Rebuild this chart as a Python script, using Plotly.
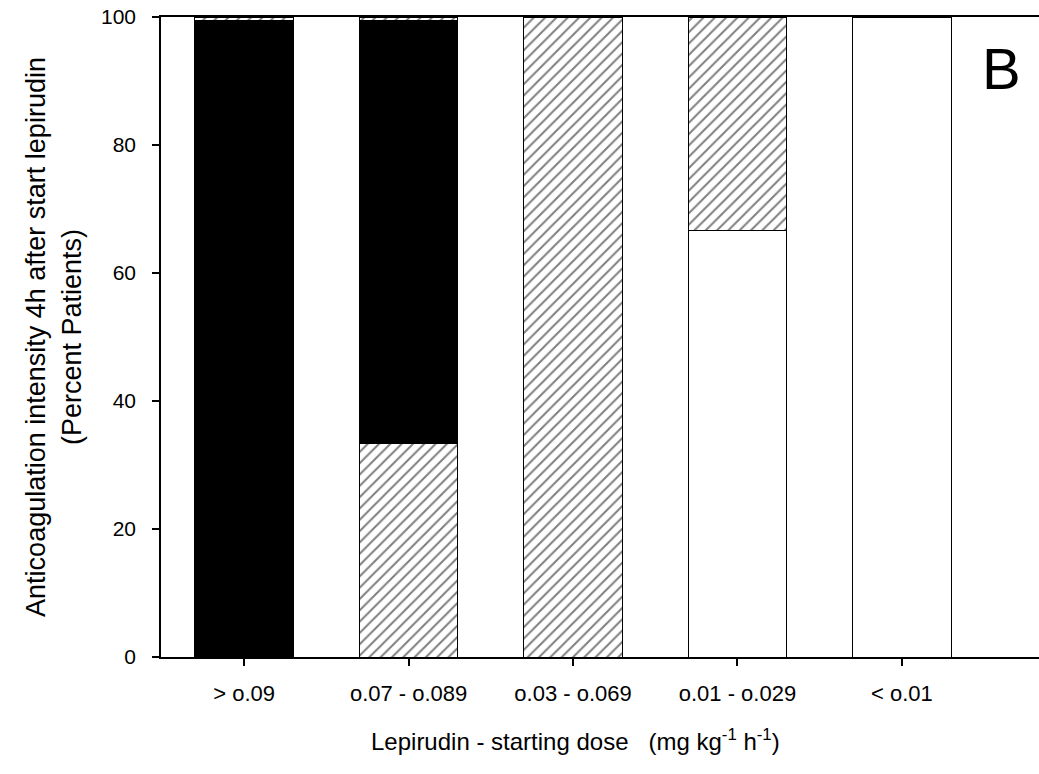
import plotly.graph_objects as go

categories = ["> o.09", "o.07 - o.089", "o.03 - o.069", "o.01 - o.029", "< o.01"]
white_vals = [None, None, None, 66.7, 100]
hatched_vals = [None, 33.3, 100, 33.3, None]
black_vals = [99.5, 66.2, None, None, None]
top_hatched_vals = [0.5, 0.5, None, None, None]
y_ticks = [0, 20, 40, 60, 80, 100]

xpos = list(range(len(categories)))
FONT = "Liberation Sans, Arial, sans-serif"
hatch = dict(shape="/", fgcolor="black", bgcolor="white", size=8, solidity=0.25)
line = dict(color="black", width=1)

fig = go.Figure()
fig.add_bar(x=xpos, y=white_vals, width=0.6, marker=dict(color="white", line=line), name="none")
fig.add_bar(x=xpos, y=hatched_vals, width=0.6, marker=dict(color="white", pattern=hatch, line=line), name="moderate")
fig.add_bar(x=xpos, y=black_vals, width=0.6, marker=dict(color="black", line=line), name="high")
fig.add_bar(x=xpos, y=top_hatched_vals, width=0.6, marker=dict(color="white", pattern=hatch, line=line), name="moderate2")

fig.update_layout(
    width=1039, height=774,
    barmode="stack",
    showlegend=False,
    plot_bgcolor="white", paper_bgcolor="white",
    margin=dict(l=161, r=0, t=17, b=117),
    font=dict(family=FONT, color="black"),
    annotations=[
        dict(text="B", x=0.957, y=0.919, xref="paper", yref="paper",
             showarrow=False, font=dict(size=58, family=FONT), xanchor="center", yanchor="middle"),
        dict(text="Lepirudin - starting dose   (mg kg<sup>-1</sup> h<sup>-1</sup>)",
             x=(575 - 161) / (1039 - 161), y=-(740 - 657) / (657 - 17),
             xref="paper", yref="paper", showarrow=False,
             font=dict(size=24, family=FONT), xanchor="center", yanchor="middle"),
    ],
)

fig.update_xaxes(
    range=[-0.506, 4.834], tickmode="array", tickvals=xpos, ticktext=categories,
    showline=True, linecolor="black", linewidth=2, mirror=True,
    ticks="outside", ticklen=7, tickcolor="black", tickwidth=1.5,
    tickfont=dict(size=22), showgrid=False, zeroline=False, ticklabelstandoff=9,
)
fig.update_yaxes(
    range=[0, 100], tickvals=y_ticks,
    showline=True, linecolor="black", linewidth=1.5,
    ticks="outside", ticklen=7, tickcolor="black", tickwidth=1.5,
    tickfont=dict(size=21), showgrid=False, zeroline=False, ticklabelstandoff=12,
    title=dict(text="Anticoagulation intensity 4h after start lepirudin<br>(Percent Patients)", font=dict(size=27), standoff=12),
)

fig.write_html("out.html")
